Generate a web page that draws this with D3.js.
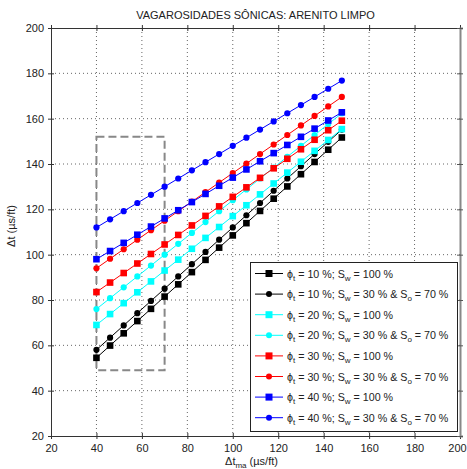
<!DOCTYPE html>
<html>
<head>
<meta charset="utf-8">
<script src="https://cdnjs.cloudflare.com/ajax/libs/d3/7.8.5/d3.min.js"></script>
<style>
  body { margin: 0; background: #fff; }
  text { font-family: "Liberation Sans", Arial, sans-serif; fill: #222; }
</style>
</head>
<body>
<div id="chart"></div>
<script>
// transit time of the matrix (x)
var dtMatrix = [40, 46, 52, 58, 64, 70, 76, 82, 88, 94, 100, 106, 112, 118, 124, 130, 136, 142, 148];

// one array per curve
var phi10water = [54.5, 59.9, 65.3, 70.7, 76.1, 81.5, 86.9, 92.3, 97.7, 103.1, 108.5, 113.9, 119.3, 124.7, 130.1, 135.5, 140.9, 146.3, 151.7];
var phi10oil   = [58, 63.4, 68.8, 74.2, 79.6, 85, 90.4, 95.8, 101.2, 106.6, 112, 117.4, 122.8, 128.2, 133.6, 139, 144.4, 149.8, 155.2];
var phi20water = [69, 73.8, 78.6, 83.4, 88.2, 93, 97.8, 102.6, 107.4, 112.2, 117, 121.8, 126.6, 131.4, 136.2, 141, 145.8, 150.6, 155.4];
var phi20oil   = [76, 80.8, 85.6, 90.4, 95.2, 100, 104.8, 109.6, 114.4, 119.2, 124, 128.8, 133.6, 138.4, 143.2, 148, 152.8, 157.6, 162.4];
var phi30water = [83.5, 87.7, 91.9, 96.1, 100.3, 104.5, 108.7, 112.9, 117.1, 121.3, 125.5, 129.7, 133.9, 138.1, 142.3, 146.5, 150.7, 154.9, 159.1];
var phi30oil   = [94, 98.2, 102.4, 106.6, 110.8, 115, 119.2, 123.4, 127.6, 131.8, 136, 140.2, 144.4, 148.6, 152.8, 157, 161.2, 165.4, 169.6];
var phi40water = [98, 101.6, 105.2, 108.8, 112.4, 116, 119.6, 123.2, 126.8, 130.4, 134, 137.6, 141.2, 144.8, 148.4, 152, 155.6, 159.2, 162.8];
var phi40oil   = [112, 115.6, 119.2, 122.8, 126.4, 130, 133.6, 137.2, 140.8, 144.4, 148, 151.6, 155.2, 158.8, 162.4, 166, 169.6, 173.2, 176.8];

var xTicks = [20, 40, 60, 80, 100, 120, 140, 160, 180, 200];
var yTicks = [20, 40, 60, 80, 100, 120, 140, 160, 180, 200];

// dashed box: x from 40 to 70, y from 49 to 152
var boxX = [40, 70];
var boxY = [49, 152];

var series = [
  { phi: "10", oil: false, color: "#000000", values: phi10water },
  { phi: "10", oil: true,  color: "#000000", values: phi10oil },
  { phi: "20", oil: false, color: "#00ffff", values: phi20water },
  { phi: "20", oil: true,  color: "#00ffff", values: phi20oil },
  { phi: "30", oil: false, color: "#ff0000", values: phi30water },
  { phi: "30", oil: true,  color: "#ff0000", values: phi30oil },
  { phi: "40", oil: false, color: "#0000ff", values: phi40water },
  { phi: "40", oil: true,  color: "#0000ff", values: phi40oil }
];

var svgWidth = 467;
var svgHeight = 469;

var margin = { top: 28, right: 7, bottom: 33, left: 51 };
var width = svgWidth - margin.left - margin.right;
var height = svgHeight - margin.top - margin.bottom;

var svg = d3.select("#chart")
  .append("svg")
  .attr("width", svgWidth)
  .attr("height", svgHeight);

var chartGroup = svg.append("g")
  .attr("transform", `translate(${margin.left}, ${margin.top})`);

var xScale = d3.scaleLinear().domain([20, 200]).range([0, width]);
var yScale = d3.scaleLinear().domain([20, 200]).range([height, 0]);

// dotted grid
chartGroup.append("g").selectAll("line")
  .data(xTicks.slice(1, -1)).enter()
  .append("line")
  .attr("x1", d => xScale(d)).attr("x2", d => xScale(d))
  .attr("y1", 0).attr("y2", height)
  .attr("stroke", "#666").attr("stroke-width", 1)
  .attr("stroke-dasharray", "1,3");

chartGroup.append("g").selectAll("line")
  .data(yTicks.slice(1, -1)).enter()
  .append("line")
  .attr("x1", 0).attr("x2", width)
  .attr("y1", d => yScale(d)).attr("y2", d => yScale(d))
  .attr("stroke", "#666").attr("stroke-width", 1)
  .attr("stroke-dasharray", "1,3");

// axes
var bottomAxis = d3.axisBottom(xScale).tickValues(xTicks).tickSize(3).tickPadding(5);
var leftAxis = d3.axisLeft(yScale).tickValues(yTicks).tickSize(3).tickPadding(4);

var xAxisG = chartGroup.append("g")
  .attr("transform", `translate(0, ${height})`)
  .call(bottomAxis);
xAxisG.selectAll(".tick line").attr("y1", -3);
// keep "200" inside the page
xAxisG.selectAll(".tick text").filter(d => d === 200).attr("dx", -3);

var yAxisG = chartGroup.append("g").call(leftAxis);
yAxisG.selectAll(".tick line").attr("x1", 3);

var topAxisG = chartGroup.append("g")
  .call(d3.axisTop(xScale).tickValues(xTicks).tickSize(3).tickFormat(""));
topAxisG.selectAll(".tick line").attr("y1", 3);

var rightAxisG = chartGroup.append("g")
  .attr("transform", `translate(${width}, 0)`)
  .call(d3.axisRight(yScale).tickValues(yTicks).tickSize(3).tickFormat(""));
rightAxisG.selectAll(".tick line").attr("x1", -3);

[xAxisG, yAxisG, topAxisG].forEach(function(g) {
  g.select(".domain").attr("stroke", "#333");
  g.selectAll(".tick line").attr("stroke", "#333");
});
rightAxisG.select(".domain").attr("stroke", "#888").attr("stroke-width", 2);
rightAxisG.selectAll(".tick line").attr("stroke", "#555");

svg.selectAll(".tick text")
  .attr("font-size", 11)
  .attr("font-family", "Liberation Sans, Arial, sans-serif")
  .attr("fill", "#222");

// dashed box
chartGroup.append("rect")
  .attr("x", xScale(boxX[0]))
  .attr("y", yScale(boxY[1]))
  .attr("width", xScale(boxX[1]) - xScale(boxX[0]))
  .attr("height", yScale(boxY[0]) - yScale(boxY[1]))
  .attr("fill", "none")
  .attr("stroke", "#888")
  .attr("stroke-width", 2)
  .attr("stroke-dasharray", "8,4");

// curves
var line = d3.line()
  .x((d, i) => xScale(dtMatrix[i]))
  .y(d => yScale(d));

series.forEach(function(s) {
  var g = chartGroup.append("g");
  g.append("path")
    .attr("d", line(s.values))
    .attr("fill", "none")
    .attr("stroke", s.color)
    .attr("stroke-width", 1);
  if (s.oil) {
    g.selectAll("circle").data(s.values).enter()
      .append("circle")
      .attr("cx", (d, i) => xScale(dtMatrix[i]))
      .attr("cy", d => yScale(d))
      .attr("r", 3.1)
      .attr("fill", s.color);
  } else {
    g.selectAll("rect").data(s.values).enter()
      .append("rect")
      .attr("x", (d, i) => xScale(dtMatrix[i]) - 3.3)
      .attr("y", d => yScale(d) - 3.3)
      .attr("width", 6.6)
      .attr("height", 6.6)
      .attr("fill", s.color);
  }
});

// title
svg.append("text")
  .attr("x", margin.left + width / 2)
  .attr("y", 19)
  .attr("text-anchor", "middle")
  .attr("font-size", 11)
  .text("VAGAROSIDADES SÔNICAS: ARENITO LIMPO");

// axis labels
var xLabel = svg.append("text")
  .attr("x", margin.left + width / 2 - 4)
  .attr("y", 465)
  .attr("text-anchor", "middle")
  .attr("font-size", 11);
xLabel.append("tspan").text("Δt");
xLabel.append("tspan").attr("font-size", 8).attr("dy", 3).text("ma");
xLabel.append("tspan").attr("dy", -3).text(" (µs/ft)");

svg.append("text")
  .attr("transform", `translate(15, ${margin.top + height / 2 - 6}) rotate(-90)`)
  .attr("text-anchor", "middle")
  .attr("font-size", 11)
  .text("Δt (µs/ft)");

// legend
var legend = svg.append("g");
legend.append("rect")
  .attr("x", 250.5).attr("y", 262.5)
  .attr("width", 207).attr("height", 169)
  .attr("fill", "#fff")
  .attr("stroke", "#222")
  .attr("stroke-width", 1);

series.forEach(function(s, i) {
  var y = 273.5 + i * 20.6;
  var row = legend.append("g");
  row.append("line")
    .attr("x1", 255).attr("x2", 283)
    .attr("y1", y).attr("y2", y)
    .attr("stroke", s.color).attr("stroke-width", 1);
  if (s.oil) {
    row.append("circle").attr("cx", 269).attr("cy", y).attr("r", 3).attr("fill", s.color);
  } else {
    row.append("rect").attr("x", 265.5).attr("y", y - 3.5).attr("width", 7).attr("height", 7).attr("fill", s.color);
  }
  var t = row.append("text")
    .attr("x", 287)
    .attr("y", y + 4)
    .attr("font-size", 10.7);
  t.append("tspan").text("ϕ");
  t.append("tspan").attr("font-size", 8).attr("dy", 3).text("t");
  t.append("tspan").attr("dy", -3).text(" = " + s.phi + " %; S");
  t.append("tspan").attr("font-size", 8).attr("dy", 3).text("w");
  if (s.oil) {
    t.append("tspan").attr("dy", -3).text(" = 30 % & S");
    t.append("tspan").attr("font-size", 8).attr("dy", 3).text("o");
    t.append("tspan").attr("dy", -3).text(" = 70 %");
  } else {
    t.append("tspan").attr("dy", -3).text(" = 100 %");
  }
});
</script>
</body>
</html>
